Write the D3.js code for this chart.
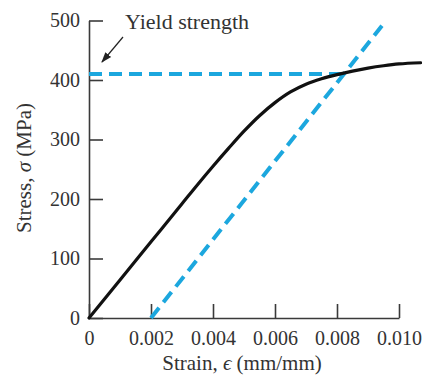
<!DOCTYPE html>
<meta charset="utf-8">
<style>
  body { margin: 0; background: #fff; }
  text { font-family: "Liberation Serif", "Times New Roman", serif; fill: #333; }
</style>
<body>
<div id="chart"></div>
<script src="https://d3js.org/d3.v7.min.js"></script>
<script>
// stress-strain curve
var strain = [0, 0.001, 0.002, 0.003, 0.0035, 0.004, 0.0045, 0.005, 0.0055, 0.006, 0.0065, 0.007, 0.0075, 0.008, 0.0085, 0.009, 0.0095, 0.010, 0.0107];
var stress = [0, 64, 128, 192, 224, 255, 285, 314, 340, 362, 380, 393, 402, 409, 415, 420, 424, 427, 429];

// 0.2% offset line and yield strength line
var offsetStrain = [0.002, 0.00945];
var offsetStress = [0, 491];
var yieldStrain = [0, 0.0082];
var yieldStress = [410, 410];

var xTicks = [0, 0.002, 0.004, 0.006, 0.008, 0.010];
var xTickLabels = ["0", "0.002", "0.004", "0.006", "0.008", "0.010"];
var yTicks = [0, 100, 200, 300, 400, 500];

var w = 422, h = 376;

var svg = d3.select("#chart")
    .append("svg")
    .attr("width", w)
    .attr("height", h);

var x = d3.scaleLinear().domain([0, 0.010]).range([89, 399]);
var y = d3.scaleLinear().domain([0, 500]).range([318, 20.5]);

var xAxis = svg.append("g")
    .attr("transform", "translate(0," + y(0) + ")")
    .call(d3.axisBottom(x)
        .tickValues(xTicks)
        .tickFormat(function(d, i) { return xTickLabels[i]; })
        .tickSizeInner(-14)
        .tickSizeOuter(0)
        .tickPadding(13));

var yAxis = svg.append("g")
    .attr("transform", "translate(" + x(0) + ",0)")
    .call(d3.axisLeft(y)
        .tickValues(yTicks)
        .tickSizeInner(-14)
        .tickSizeOuter(0)
        .tickPadding(9));

svg.selectAll(".domain, .tick line")
    .attr("stroke", "#3a3a3a")
    .attr("stroke-width", 1.6);

svg.selectAll(".tick text")
    .attr("font-size", 20)
    .attr("fill", "#333");

var line = d3.line()
    .x(function(d) { return x(d[0]); })
    .y(function(d) { return y(d[1]); });

var blue = "#1ca7de";

// yield strength (dashed horizontal)
svg.append("path")
    .datum(d3.zip(yieldStrain, yieldStress))
    .attr("d", line)
    .attr("fill", "none")
    .attr("stroke", blue)
    .attr("stroke-width", 4)
    .attr("stroke-dasharray", "13,7");

// offset line
svg.append("path")
    .datum(d3.zip(offsetStrain, offsetStress))
    .attr("d", line)
    .attr("fill", "none")
    .attr("stroke", blue)
    .attr("stroke-width", 4)
    .attr("stroke-dasharray", "13,7");

// the curve itself
svg.append("path")
    .datum(d3.zip(strain, stress))
    .attr("d", line.curve(d3.curveCatmullRom))
    .attr("fill", "none")
    .attr("stroke", "#111")
    .attr("stroke-width", 3.2)
    .attr("stroke-linecap", "round");

// annotation with arrow
svg.append("defs").append("marker")
    .attr("id", "arrow")
    .attr("viewBox", "0 0 10 10")
    .attr("refX", 9)
    .attr("refY", 5)
    .attr("markerWidth", 9)
    .attr("markerHeight", 9)
    .attr("orient", "auto")
    .append("path")
    .attr("d", "M0,1.5 L10,5 L0,8.5 Z")
    .attr("fill", "#222");

svg.append("line")
    .attr("x1", 123).attr("y1", 37)
    .attr("x2", 102).attr("y2", 62)
    .attr("stroke", "#222")
    .attr("stroke-width", 1.2)
    .attr("marker-end", "url(#arrow)");

svg.append("text")
    .text("Yield strength")
    .attr("x", 125)
    .attr("y", 29)
    .attr("font-size", 22);

// axis titles
var xt = svg.append("text")
    .attr("x", 242)
    .attr("y", 370)
    .attr("text-anchor", "middle")
    .attr("font-size", 21);
xt.append("tspan").text("Strain, ");
xt.append("tspan").text("\u03f5").attr("font-style", "italic");
xt.append("tspan").text(" (mm/mm)");

var yt = svg.append("text")
    .attr("transform", "translate(31,168) rotate(-90)")
    .attr("text-anchor", "middle")
    .attr("font-size", 21);
yt.append("tspan").text("Stress, ");
yt.append("tspan").text("\u03c3").attr("font-style", "italic");
yt.append("tspan").text(" (MPa)");
</script>
</body>
